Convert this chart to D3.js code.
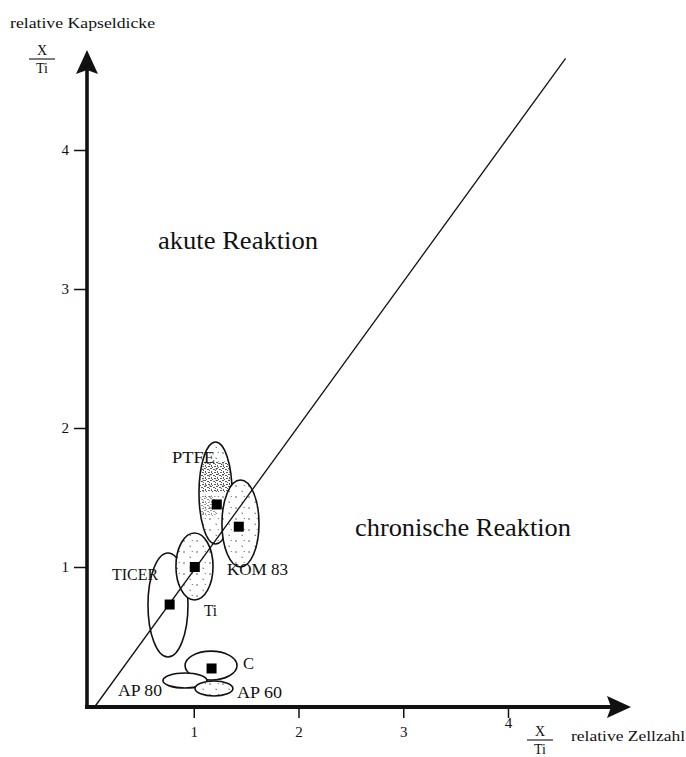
<!DOCTYPE html>
<html>
<head>
<meta charset="utf-8">
<script src="https://cdn.jsdelivr.net/npm/d3@7"></script>
<style>
  html, body { margin: 0; padding: 0; background: #fff; }
  svg { display: block; }
  text { font-family: "Liberation Serif", "Times New Roman", serif; fill: #111; }
</style>
</head>
<body>
<svg id="chart" width="686" height="757"></svg>
<script>
// Tick values on both axes
const xTicks = [1, 2, 3, 4];
const yTicks = [1, 2, 3, 4];

// Material groups: centre and half-extent of each scatter ellipse (relative units)
const groups  = ["TICER", "Ti", "PTFE", "KOM 83", "C", "AP 80", "AP 60"];
const centerX = [0.754, 1.007, 1.208, 1.446, 1.165, 0.916, 1.193];
const centerY = [0.727, 1.004, 1.532, 1.313, 0.291, 0.183, 0.126];
const spreadX = [0.191, 0.177, 0.158, 0.177, 0.248, 0.210, 0.181];
const spreadY = [0.374, 0.241, 0.367, 0.313, 0.104, 0.054, 0.054];
const stippled = ["Ti", "PTFE", "KOM 83", "AP 60"];

// Mean values (black squares)
const markerGroups = ["TICER", "Ti", "PTFE", "KOM 83", "C"];
const markerX = [0.77, 1.01, 1.22, 1.43, 1.17];
const markerY = [0.73, 1.00, 1.45, 1.29, 0.27];

// Boundary between acute and chronic reaction
const diagonalX = [0.06, 4.55];
const diagonalY = [0, 4.66];

// ---- layout ----
const svg = d3.select("#chart");
const x = d3.scaleLinear().domain([0, 4]).range([89, 508]);
const y = d3.scaleLinear().domain([0, 4]).range([706, 150]);
const axisX = 87, axisY = 707;

// Patterns for the stippled ellipses
const defs = svg.append("defs");
const sp = defs.append("pattern").attr("id", "stipple")
  .attr("patternUnits", "userSpaceOnUse").attr("width", 13).attr("height", 11);
sp.append("rect").attr("width", 13).attr("height", 11).attr("fill", "#fff");
[[1, 2, 3, 2], [7.5, 7, 9, 7.5], [10, 1, 10.5, 2]].forEach(s =>
  sp.append("line").attr("x1", s[0]).attr("y1", s[1]).attr("x2", s[2]).attr("y2", s[3])
    .attr("stroke", "#555").attr("stroke-width", 0.9));

const dp = defs.append("pattern").attr("id", "dense")
  .attr("patternUnits", "userSpaceOnUse").attr("width", 6).attr("height", 6);
[[0, 0, 2, 1], [3, 1, 2, 1], [1, 3, 1, 2], [4, 4, 2, 1], [2, 5, 1, 1], [5, 2, 1, 1]].forEach(r =>
  dp.append("rect").attr("x", r[0]).attr("y", r[1]).attr("width", r[2]).attr("height", r[3])
    .attr("fill", "#333"));

// Ellipses, drawn back to front
const order = ["PTFE", "KOM 83", "TICER", "Ti", "C", "AP 80", "AP 60"];
const ellG = svg.append("g");
order.forEach(name => {
  const i = groups.indexOf(name);
  const cx = x(centerX[i]), cy = y(centerY[i]);
  const rx = x(centerX[i] + spreadX[i]) - cx;
  const ry = cy - y(centerY[i] + spreadY[i]);
  const fill = stippled.includes(name) ? "url(#stipple)" : "#fff";
  ellG.append("ellipse").attr("cx", cx).attr("cy", cy).attr("rx", rx).attr("ry", ry)
    .attr("fill", fill).attr("stroke", "#111").attr("stroke-width", 1.6);
  if (name === "PTFE") {
    // dense hatching in the upper part of the PTFE cloud
    const clip = defs.append("clipPath").attr("id", "ptfeClip");
    clip.append("ellipse").attr("cx", cx).attr("cy", cy).attr("rx", rx - 1).attr("ry", ry - 1);
    ellG.append("rect").attr("clip-path", "url(#ptfeClip)")
      .attr("x", cx - rx).attr("y", cy - ry * 0.62).attr("width", 2 * rx).attr("height", ry * 0.6)
      .attr("fill", "url(#dense)").attr("opacity", 0.8);
    ellG.append("rect").attr("clip-path", "url(#ptfeClip)")
      .attr("x", cx - rx).attr("y", cy + ry * 0.05).attr("width", rx).attr("height", ry * 0.4)
      .attr("fill", "url(#dense)").attr("opacity", 0.5);
  }
});

// Diagonal boundary line
svg.append("line")
  .attr("x1", x(diagonalX[0])).attr("y1", y(diagonalY[0]))
  .attr("x2", x(diagonalX[1])).attr("y2", y(diagonalY[1]))
  .attr("stroke", "#111").attr("stroke-width", 1.3);

// Mean markers
svg.append("g").selectAll("rect").data(markerGroups).join("rect")
  .attr("x", (d, i) => x(markerX[i]) - 5)
  .attr("y", (d, i) => y(markerY[i]) - 5)
  .attr("width", 10).attr("height", 10).attr("fill", "#000");

// Axes
const yAxis = svg.append("g").attr("transform", `translate(${axisX},0)`)
  .call(d3.axisLeft(y).tickValues(yTicks).tickSize(13).tickPadding(5).tickFormat(d3.format("d")));
const xAxis = svg.append("g").attr("transform", `translate(0,${axisY})`)
  .call(d3.axisBottom(x).tickValues(xTicks).tickSize(11).tickPadding(8).tickFormat(d3.format("d")));
[yAxis, xAxis].forEach(a => {
  a.select(".domain").remove();
  a.selectAll(".tick line").attr("stroke", "#111").attr("stroke-width", 1.5);
  a.selectAll(".tick text").attr("font-family", "Liberation Serif, serif")
    .attr("font-size", 15).attr("fill", "#111");
});
// the last x label sits a little higher, next to the fraction
xAxis.selectAll(".tick text").filter(d => d === 4).attr("y", 10);

// Thick axis lines with arrow heads
svg.append("line").attr("x1", axisX).attr("y1", 70).attr("x2", axisX).attr("y2", axisY + 2)
  .attr("stroke", "#111").attr("stroke-width", 3.6);
svg.append("line").attr("x1", axisX - 2).attr("y1", axisY).attr("x2", 614).attr("y2", axisY)
  .attr("stroke", "#111").attr("stroke-width", 4.2);
svg.append("path").attr("d", `M${axisX},50 L${axisX + 11},74 L${axisX},70 L${axisX - 11},74 Z`)
  .attr("fill", "#111");
svg.append("path").attr("d", `M631,${axisY} L607,${axisY + 11} L611,${axisY} L607,${axisY - 11} Z`)
  .attr("fill", "#111");

// Axis titles with X/Ti fractions
function fraction(cx, topBase) {
  svg.append("text").attr("x", cx).attr("y", topBase).attr("text-anchor", "middle")
    .attr("font-size", 14).text("X");
  svg.append("line").attr("x1", cx - 13).attr("x2", cx + 13)
    .attr("y1", topBase + 4).attr("y2", topBase + 4).attr("stroke", "#111").attr("stroke-width", 1.1);
  svg.append("text").attr("x", cx).attr("y", topBase + 18).attr("text-anchor", "middle")
    .attr("font-size", 14).text("Ti");
}
svg.append("text").attr("x", 10).attr("y", 28).attr("font-size", 14)
  .attr("textLength", 145).attr("lengthAdjust", "spacingAndGlyphs").text("relative Kapseldicke");
fraction(42, 55);
svg.append("text").attr("x", 571).attr("y", 741).attr("font-size", 14)
  .attr("textLength", 114).attr("lengthAdjust", "spacingAndGlyphs").text("relative Zellzahl");
fraction(540, 736);

// Region labels
svg.append("text").attr("x", 158).attr("y", 249).attr("font-size", 25)
  .attr("textLength", 160).attr("lengthAdjust", "spacingAndGlyphs").text("akute Reaktion");
svg.append("text").attr("x", 355).attr("y", 536).attr("font-size", 25)
  .attr("textLength", 216).attr("lengthAdjust", "spacingAndGlyphs").text("chronische Reaktion");

// Group labels
const labelPos = {
  "PTFE":   [172, 463, 43],
  "KOM 83": [227, 575, 61],
  "TICER":  [112, 580, 46],
  "Ti":     [204, 616, 13],
  "C":      [243, 669, 11],
  "AP 80":  [118, 696, 44],
  "AP 60":  [237, 698, 45]
};
groups.forEach(name => {
  const p = labelPos[name];
  svg.append("text").attr("x", p[0]).attr("y", p[1]).attr("font-size", 17)
    .attr("textLength", p[2]).attr("lengthAdjust", "spacingAndGlyphs").text(name);
});
</script>
</body>
</html>
